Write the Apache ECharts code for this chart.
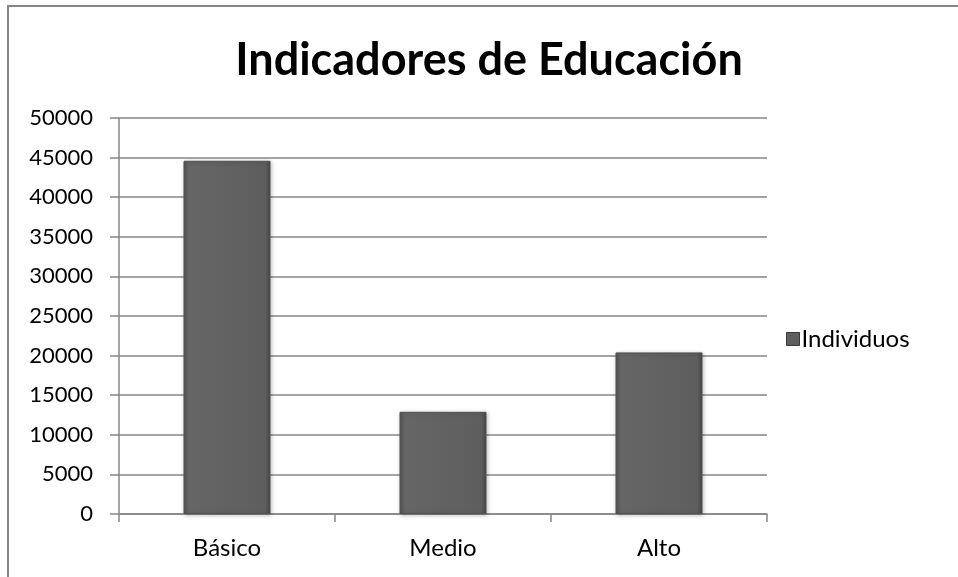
<!DOCTYPE html>
<html>
<head>
<meta charset="utf-8">
<script src="https://cdn.jsdelivr.net/npm/echarts@6/dist/echarts.min.js"></script>
<style>
  html, body { margin: 0; padding: 0; background: #fff; }
  #chart { width: 958px; height: 577px; }
</style>
</head>
<body>
<div id="chart"></div>
<script>
// Education indicators: number of individuals per level
const categories = ['Básico', 'Medio', 'Alto'];
const individuos = [44600, 12900, 20400];
const seriesName = 'Individuos';
const titleText = 'Indicadores de Educación';

const FONT = 'Lato, "Liberation Sans", sans-serif';

const chart = echarts.init(document.getElementById('chart'));

const barFill = new echarts.graphic.LinearGradient(0, 0, 1, 0, [
  { offset: 0, color: '#545454' },
  { offset: 0.06, color: '#666666' },
  { offset: 0.5, color: '#626262' },
  { offset: 0.94, color: '#5e5e5e' },
  { offset: 1, color: '#474747' }
]);

chart.setOption({
  animation: false,
  backgroundColor: '#ffffff',
  graphic: [{
    type: 'polyline',
    shape: { points: [[8, 577], [8, 6], [958, 6]] },
    style: { stroke: '#868686', lineWidth: 2, fill: null },
    silent: true
  }],
  title: {
    text: titleText,
    left: 484,
    top: 33,
    textAlign: 'center',
    textStyle: { fontFamily: FONT, fontSize: 45, fontWeight: 'bold', color: '#000' }
  },
  legend: {
    data: [seriesName],
    left: 781,
    top: 322,
    itemWidth: 13,
    itemHeight: 13,
    itemGap: 4,
    icon: 'rect',
    textStyle: { fontFamily: FONT, fontSize: 24, color: '#000', padding: [0, 0, 0, -3] },
    itemStyle: { color: '#5f5f5f', borderColor: '#3a3a3a', borderWidth: 1 }
  },
  grid: { left: 119, right: 191, top: 118, bottom: 63, containLabel: false },
  xAxis: {
    type: 'category',
    data: categories,
    axisLine: { lineStyle: { color: '#868686', width: 1.5 } },
    axisTick: { show: true, length: 8, inside: false, lineStyle: { color: '#868686', width: 1.5 } },
    axisLabel: { fontFamily: FONT, fontSize: 24, color: '#000', margin: 22 },
    splitLine: { show: false }
  },
  yAxis: {
    type: 'value',
    min: 0,
    max: 50000,
    interval: 5000,
    axisLine: { show: true, lineStyle: { color: '#868686', width: 1.5 } },
    axisTick: { show: true, length: 9, lineStyle: { color: '#868686', width: 1.5 } },
    axisLabel: { fontFamily: FONT, fontSize: 22, color: '#000', margin: 26, formatter: v => String(v) },
    splitLine: { show: true, lineStyle: { color: '#868686', width: 1.5 } }
  },
  series: [{
    name: seriesName,
    type: 'bar',
    data: individuos,
    barWidth: 87,
    itemStyle: {
      color: barFill,
      borderColor: '#505050',
      borderWidth: 1,
      shadowColor: 'rgba(0,0,0,0.25)',
      shadowBlur: 4,
      shadowOffsetX: 1,
      shadowOffsetY: 1
    }
  }]
});
</script>
</body>
</html>
